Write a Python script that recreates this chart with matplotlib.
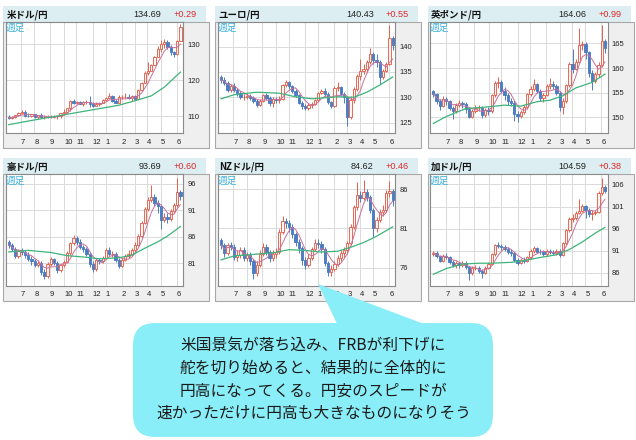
import matplotlib.pyplot as plt
from matplotlib.patches import Rectangle, FancyBboxPatch, Polygon
import numpy as np
import pandas as pd

plt.rcParams['font.family'] = ['Liberation Sans', 'Noto Sans CJK JP']
JP = ['Noto Sans CJK JP', 'Liberation Sans']

W, H = 636, 440
RED = '#e2604c'
BLUE = '#4d7cc2'
PINK = '#c8709a'
GREEN = '#3db47a'

# month grid (week index of each month start) and labels
month_pos = [3.8, 7.9, 12.7, 17.1, 20.9, 26.0, 29.9, 34.9, 39.0, 42.8, 46.9, 51.9]
month_labels = ['7', '8', '9', '10', '11', '12', '1', '2', '3', '4', '5', '6']

# ---- weekly data, one year (open of each week = previous close) ----
usd_open0 = 109.8
usd_close = [109.5,109.7,110.2,110.8,111.0,110.1,110.0,110.5,109.7,110.2,109.6,109.8,109.8,109.7,109.9,109.9,110.7,111.0,112.2,114.2,113.5,114.0,113.4,113.9,114.0,113.4,112.8,113.4,113.7,114.4,115.1,115.6,114.2,113.7,115.2,115.2,115.4,115.0,115.6,114.8,117.3,119.2,122.0,122.5,124.3,126.4,128.5,130.0,130.6,129.2,127.9,127.1,130.9,134.7]
usd_high = [110.2,110.0,110.4,111.1,111.6,111.7,110.7,110.6,110.6,110.4,110.8,110.2,110.2,110.3,110.4,110.4,110.9,112.0,112.3,114.5,114.7,114.3,114.3,114.3,114.4,115.5,113.9,113.8,114.0,114.6,115.4,116.3,115.7,114.6,115.7,115.7,116.3,116.0,115.8,115.8,117.4,119.4,122.4,125.1,124.4,126.6,129.4,131.2,131.3,131.0,129.8,128.0,131.2,135.5]
usd_low = [109.2,109.2,109.4,109.9,110.5,109.8,109.7,109.7,109.4,109.2,109.4,109.1,109.4,109.4,109.5,109.1,109.5,110.4,110.8,111.5,113.4,113.2,113.4,112.7,113.3,112.5,112.5,112.7,112.9,113.6,114.2,114.8,113.8,113.5,113.5,114.6,115.0,114.7,114.3,114.6,114.6,117.0,119.1,121.3,122.4,124.1,126.3,127.8,128.8,128.5,126.9,126.4,126.9,130.8]
usd_ma_wk = [0, 6, 13, 20, 27, 34, 40, 44, 48, 53]
usd_ma = [107.6, 108.6, 109.7, 110.8, 111.9, 113.0, 114.5, 115.6, 118.0, 122.2]

eur_open0 = 133.9
eur_close = [133.4,132.9,131.5,132.3,131.4,130.8,130.0,130.1,130.2,129.9,129.3,128.5,129.3,130.4,129.9,128.8,129.6,129.4,129.7,132.4,133.0,132.2,131.3,130.4,128.9,128.2,127.8,128.5,128.6,129.4,130.9,131.3,130.7,129.0,128.3,131.9,132.0,130.6,130.0,126.2,129.4,131.6,134.2,135.2,135.5,136.9,138.6,137.3,136.9,133.9,135.2,136.6,141.6,140.4]
eur_high = [134.3,133.9,133.2,132.6,132.8,131.8,131.3,130.6,130.8,130.6,130.3,129.6,129.6,130.7,130.9,130.2,130.0,130.1,130.2,132.6,133.5,133.3,132.4,131.6,130.7,129.3,128.7,128.9,129.0,129.7,131.1,131.6,131.8,131.0,129.3,132.2,133.1,132.3,131.0,130.2,130.2,132.0,134.5,137.5,136.5,137.3,139.7,139.0,138.5,137.3,135.6,137.0,144.2,142.0]
eur_low = [132.9,132.5,131.0,131.1,131.0,130.2,129.6,129.5,129.6,129.5,128.9,128.0,128.3,129.1,129.5,128.3,128.0,128.9,128.8,129.5,132.0,131.6,130.8,130.0,128.6,127.7,127.4,127.5,127.9,128.4,129.2,130.6,130.2,128.7,127.9,128.0,131.3,130.2,128.8,124.4,125.8,128.9,131.2,133.4,134.5,134.9,136.5,136.5,135.9,132.6,133.6,134.9,136.3,139.4]
eur_ma_wk = [0, 4, 11, 18, 23, 28, 36, 41, 45, 49, 53]
eur_ma = [129.7, 130.5, 131.0, 130.8, 130.1, 129.7, 130.1, 130.0, 131.0, 132.4, 134.0]

gbp_open0 = 155.3
gbp_close = [154.7,153.4,152.4,153.8,153.3,152.0,151.4,152.6,153.0,152.7,151.7,150.2,151.4,151.9,152.0,150.5,151.6,151.3,154.5,156.9,157.2,155.3,154.6,153.4,153.0,150.8,150.3,151.2,152.1,154.7,155.7,156.8,155.4,153.9,154.6,156.3,156.7,156.4,155.0,152.2,153.4,156.5,160.8,159.9,161.3,164.6,164.8,163.2,159.0,157.3,158.9,160.6,165.5,164.1]
gbp_high = [155.6,155.0,153.8,154.3,154.2,153.6,152.4,153.0,153.5,153.4,153.1,152.0,151.7,152.5,152.6,152.3,151.9,152.2,154.8,157.4,158.2,157.6,156.1,155.0,154.0,153.5,151.4,151.6,152.5,155.0,156.3,157.8,157.0,155.7,155.0,156.7,158.0,157.3,156.8,155.4,153.9,156.8,161.2,163.8,161.8,168.2,165.4,165.3,163.5,159.6,159.3,161.2,168.7,165.8]
gbp_low = [154.2,152.8,151.5,152.1,152.6,151.6,149.6,151.0,152.1,152.0,151.0,149.8,149.9,151.0,151.3,149.8,150.0,150.6,151.0,154.2,156.0,155.0,153.5,152.6,152.3,149.3,149.0,149.9,150.8,151.8,154.3,155.4,155.0,153.4,153.1,154.3,155.8,155.7,154.6,151.3,150.8,153.0,156.2,159.0,159.6,161.0,163.6,161.8,158.2,155.6,156.9,158.3,160.3,163.0]
gbp_ma_wk = [0, 4, 10, 16, 22, 27, 32, 36, 40, 44, 49, 53]
gbp_ma = [148.8, 150.2, 151.8, 152.1, 152.5, 152.3, 153.2, 153.5, 154.4, 156.0, 157.1, 158.8]

aud_open0 = 84.9
aud_close = [84.4,83.6,82.4,83.3,83.0,82.6,81.8,81.4,80.6,81.0,79.3,78.5,80.9,81.7,81.0,79.6,80.6,81.2,82.9,84.7,85.7,84.9,84.0,83.7,82.7,80.8,79.8,81.6,81.3,82.0,83.4,82.7,82.8,81.6,80.5,81.6,82.3,82.7,83.4,84.5,86.2,88.6,91.3,93.0,93.5,92.4,91.8,89.2,89.8,89.3,90.8,91.9,94.5,93.7]
aud_high = [85.3,84.8,84.0,83.7,83.8,83.4,83.0,82.4,81.8,81.6,81.3,79.8,81.2,82.2,82.0,81.3,80.9,81.6,83.2,85.0,86.3,86.2,85.5,84.5,84.0,83.0,81.3,81.9,82.0,82.4,83.9,84.0,83.3,83.0,81.9,82.0,82.8,83.4,83.9,84.9,86.5,89.0,91.6,93.4,95.7,94.0,93.0,92.2,90.5,90.4,91.2,92.3,97.0,94.9]
aud_low = [83.9,83.2,82.0,82.0,82.5,82.0,81.4,80.6,80.2,80.2,78.8,77.9,78.2,80.5,80.6,79.2,79.3,80.2,81.0,82.6,84.4,84.5,83.6,83.0,82.3,80.3,79.4,79.5,80.8,81.0,81.8,82.3,82.1,81.2,80.0,80.3,81.3,82.0,82.4,83.0,84.2,85.9,88.3,90.8,92.6,91.8,90.4,87.5,88.7,88.6,89.0,90.5,91.6,92.9]
aud_ma_wk = [0, 6, 13, 18, 24, 28, 34, 38, 42, 46, 49, 53]
aud_ma = [83.1, 83.4, 83.0, 82.4, 82.1, 81.8, 82.0, 82.5, 83.8, 85.0, 86.1, 87.9]

nzd_open0 = 79.5
nzd_close = [78.9,77.9,78.9,78.7,77.4,77.6,78.3,77.3,77.6,76.8,75.3,76.4,77.8,78.6,78.0,77.2,77.8,78.0,80.6,81.9,81.7,81.2,80.3,79.3,78.5,77.0,76.4,77.3,78.4,79.2,79.0,78.4,76.6,75.4,75.9,76.5,77.2,77.9,78.2,79.1,81.2,83.7,85.3,84.9,85.6,85.0,83.3,81.0,82.1,83.1,83.4,85.5,85.7,84.6]
nzd_high = [79.8,79.2,79.2,79.3,79.0,78.2,78.6,78.6,78.0,78.0,77.1,76.8,78.2,79.1,79.0,78.3,78.2,78.5,80.9,82.6,82.3,82.1,81.5,80.6,79.7,78.8,77.4,77.7,78.7,79.7,79.6,79.4,78.7,76.9,76.3,76.9,77.6,78.3,78.7,79.4,81.5,84.0,86.9,85.8,87.1,86.0,85.3,83.6,82.4,83.5,84.0,85.9,87.0,86.0]
nzd_low = [78.4,77.4,77.6,78.2,77.0,76.9,77.2,76.8,76.9,76.3,74.6,75.0,76.1,77.5,77.6,76.7,76.8,77.3,77.8,80.3,81.0,80.6,79.8,78.8,77.9,76.3,75.9,76.1,77.0,78.1,78.5,77.9,76.2,75.0,75.0,75.6,76.2,76.9,77.4,77.9,78.9,80.9,83.4,84.3,84.6,84.5,82.9,79.9,80.6,81.8,82.6,83.1,85.0,83.9]
nzd_ma_wk = [0, 4, 10, 16, 21, 26, 31, 36, 40, 44, 48, 53]
nzd_ma = [77.0, 77.5, 77.7, 77.9, 78.3, 78.2, 78.0, 78.1, 78.6, 79.2, 80.0, 81.2]

cad_open0 = 90.2
cad_close = [90.6,89.8,88.8,89.9,89.6,88.5,87.9,88.2,87.7,88.3,87.3,85.9,87.1,87.2,86.5,86.0,87.2,88.0,90.2,92.3,92.1,91.8,91.5,90.8,90.4,89.0,88.3,89.0,88.7,89.5,91.0,91.6,90.8,90.7,90.2,90.9,90.7,90.5,91.0,90.1,92.7,95.6,98.2,98.3,99.6,100.1,101.1,100.2,99.4,99.5,99.8,104.0,105.4,104.6]
cad_high = [91.0,90.9,90.1,90.3,90.4,89.9,88.9,88.7,88.5,88.7,88.6,87.6,87.5,87.8,87.6,86.9,87.5,88.4,90.5,92.6,93.0,92.5,92.2,91.9,91.3,90.7,89.4,89.4,89.5,89.8,91.3,92.0,91.9,91.3,91.1,91.3,91.4,91.1,91.4,91.3,93.0,96.0,98.6,99.3,100.0,102.8,101.5,101.4,100.6,100.2,100.3,104.4,107.5,105.8]
cad_low = [89.9,89.4,88.4,88.5,89.1,88.0,87.4,87.1,87.2,87.3,86.8,84.5,85.6,86.7,86.1,84.9,85.7,86.9,87.7,89.9,91.6,91.2,91.0,90.3,89.9,88.4,87.8,88.0,88.2,88.4,89.2,90.6,90.4,90.2,89.8,89.9,90.2,90.0,90.1,89.5,89.8,92.4,95.3,97.6,97.9,99.2,99.7,98.5,98.6,98.0,99.0,99.5,103.6,104.1]
cad_ma_wk = [0, 4, 9, 14, 18, 24, 28, 33, 38, 42, 46, 50, 53]
cad_ma = [85.7, 87.0, 88.0, 88.2, 88.2, 88.4, 88.8, 89.5, 90.1, 91.3, 93.0, 95.0, 96.3]

panels = [
    ('米ドル/円', '134.69', '+0.29', usd_open0, usd_close, usd_high, usd_low, usd_ma_wk, usd_ma, [110, 120, 130], (105.2, 136.2)),
    ('ユーロ/円', '140.43', '+0.55', eur_open0, eur_close, eur_high, eur_low, eur_ma_wk, eur_ma, [125, 130, 135, 140], (122.9, 144.9)),
    ('英ポンド/円', '164.06', '+0.99', gbp_open0, gbp_close, gbp_high, gbp_low, gbp_ma_wk, gbp_ma, [150, 155, 160, 165], (146.8, 169.4)),
    ('豪ドル/円', '93.69', '+0.60', aud_open0, aud_close, aud_high, aud_low, aud_ma_wk, aud_ma, [81, 86, 91, 96], (76.7, 97.8)),
    ('NZドル/円', '84.62', '+0.46', nzd_open0, nzd_close, nzd_high, nzd_low, nzd_ma_wk, nzd_ma, [76, 81, 86], (73.7, 87.9)),
    ('加ドル/円', '104.59', '+0.38', cad_open0, cad_close, cad_high, cad_low, cad_ma_wk, cad_ma, [86, 91, 96, 101, 106], (83.1, 108.3)),
]

bubble_lines = ['米国景気が落ち込み、FRBが利下げに',
                '舵を切り始めると、結果的に全体的に',
                '円高になってくる。円安のスピードが',
                '速かっただけに円高も大きなものになりそう']


def box(x, y, w, h):
    return [x / W, 1 - (y + h) / H, w / W, h / H]


fig = plt.figure(figsize=(6.36, 4.4), dpi=100)
fig.patch.set_facecolor('white')

bg = fig.add_axes([0, 0, 1, 1], zorder=-1)
bg.set_xlim(0, W)
bg.set_ylim(H, 0)
bg.axis('off')


def draw_panel(i, name, price, change, open0, close, high, low, ma_wk, ma, yticks, ylim):
    x0 = 3 + (i % 3) * 212.3
    y0 = 6 + (i // 3) * 152.5
    # header strip and grey frame
    bg.add_patch(Rectangle((x0, y0), 203, 15.7, fc='#ddeef2', ec='none'))
    bg.add_patch(Rectangle((x0, y0 + 15.7), 206, 126.5, fc='#efefef', ec='#a8a8a8', lw=0.8))
    bg.text(x0 + 3.5, y0 + 8.3, name, family=JP, weight='bold', fontsize=6.8, va='center', color='#111111')
    bg.text(x0 + 158.5, y0 + 8.3, price, fontsize=6.6, ha='right', va='center', color='#222222')
    bg.text(x0 + 193.5, y0 + 8.3, change, fontsize=6.6, ha='right', va='center', color='#e02828')

    ax = fig.add_axes(box(x0 + 2.5, y0 + 15.7, 177.5, 111.6))
    c = pd.Series(close)
    o = c.shift(1).fillna(open0)
    x = np.arange(len(c))
    up = (c >= o).values
    cols = np.where(up, RED, BLUE)
    ax.vlines(x, low, high, colors=cols, lw=0.7, zorder=2)
    body = np.maximum(np.abs(c - o).values, 0.04 * (ylim[1] - ylim[0]) / 20)
    ax.bar(x, body, bottom=np.minimum(o, c).values, width=0.7,
           color=np.where(up, '#fff6f3', BLUE), edgecolor=cols, lw=0.65, zorder=3)
    ax.plot(x, c.rolling(5, min_periods=1).mean(), color=PINK, lw=0.7, zorder=4)
    ax.plot(ma_wk, ma, color=GREEN, lw=0.9, zorder=4)

    ax.set_xlim(-1.0, 53.8)
    ax.set_ylim(*ylim)
    ax.set_xticks(month_pos)
    ax.set_xticklabels(month_labels, ha='left')
    ax.set_yticks(yticks)
    ax.yaxis.tick_right()
    ax.tick_params(axis='both', length=0, labelsize=5.5, colors='#222222')
    ax.tick_params(axis='x', pad=4)
    ax.tick_params(axis='y', pad=3)
    ax.grid(True, color='#dadada', lw=0.7)
    ax.set_axisbelow(True)
    for s in ax.spines.values():
        s.set_color('#8a8a8a')
        s.set_linewidth(0.8)
    ax.text(0.0, 0.985, '週足', transform=ax.transAxes, family=JP, fontsize=7,
            color='#3fb2dc', va='top', ha='left')


for i, p in enumerate(panels):
    draw_panel(i, *p)

# speech bubble
fg = fig.add_axes([0, 0, 1, 1], zorder=10)
fg.set_xlim(0, W)
fg.set_ylim(H, 0)
fg.axis('off')
bubble_col = '#8aeef8'
fg.add_patch(Polygon([(318, 284), (340, 330), (440, 330)], closed=True, fc=bubble_col, ec='none'))
fg.add_patch(FancyBboxPatch((133, 323), 360, 114, boxstyle='round,pad=0,rounding_size=22',
                            fc=bubble_col, ec='none'))
for k, line in enumerate(bubble_lines):
    fg.text(313.5, 345.5 + k * 22.6, line, family=JP, fontsize=11.3, ha='center', va='center',
            color='#1a1a1a')

fig.savefig('out.png', dpi=100)
